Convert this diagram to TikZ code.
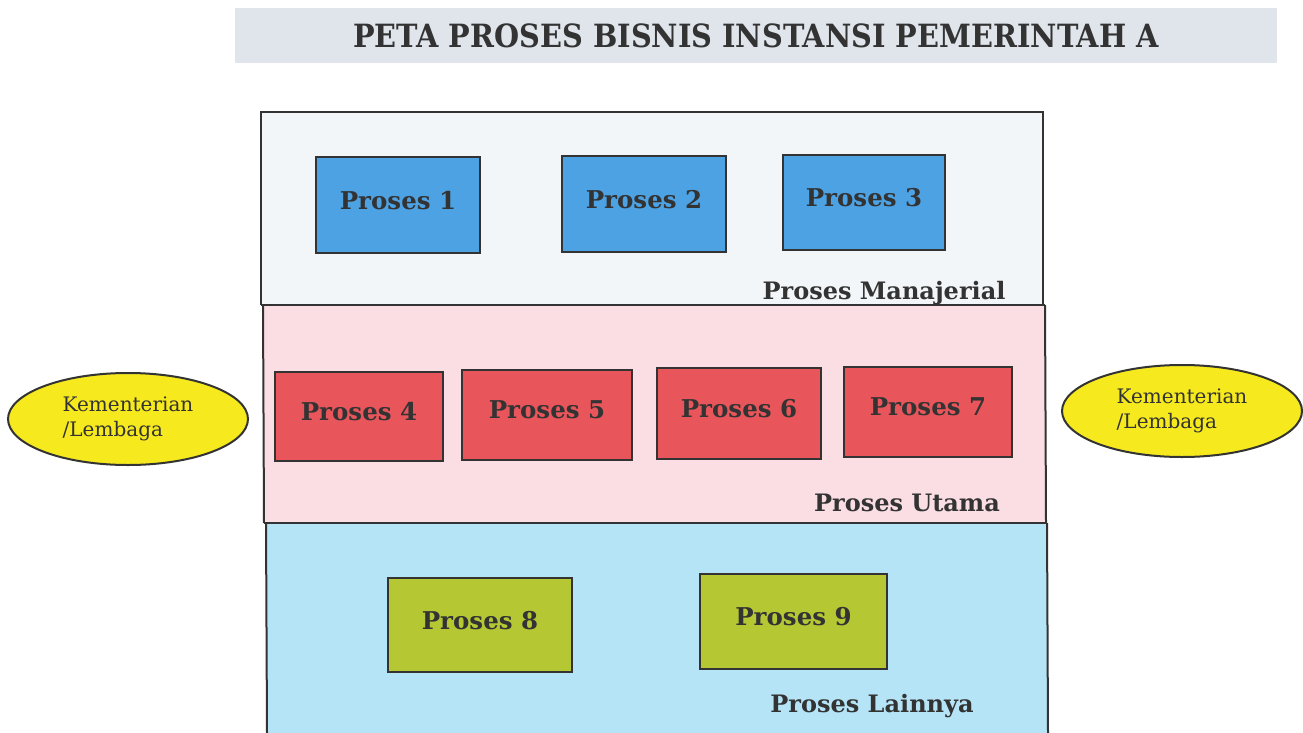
\documentclass[tikz,border=0pt]{standalone}
\usepackage{fontspec}
\setmainfont{DejaVu Serif}
\usetikzlibrary{shapes.geometric}
\definecolor{titlebg}{HTML}{DFE5EB}
\definecolor{topbg}{HTML}{F3F6F8}
\definecolor{midbg}{HTML}{FADEE4}
\definecolor{botbg}{HTML}{B4E4F6}
\definecolor{pblue}{HTML}{4DA2E4}
\definecolor{pred}{HTML}{E8555B}
\definecolor{pgreen}{HTML}{B5C834}
\definecolor{kyellow}{HTML}{F6EA1E}
\definecolor{ink}{HTML}{333333}
\tikzset{
  procbox/.style={draw=ink, line width=2.5pt, rectangle, inner sep=0pt, text depth=10pt,
    font=\fontsize{24.5}{28}\selectfont\bfseries, text=ink},
  seclabel/.style={font=\fontsize{24}{28}\selectfont\bfseries, text=ink, inner sep=0pt},
  kl/.style={ellipse, draw=ink, line width=2pt, fill=kyellow, minimum width=240pt,
    minimum height=92pt, inner sep=0pt, align=left, text=ink,
    font=\fontsize{20}{25}\selectfont},
}
\begin{document}
\begin{tikzpicture}[x=1pt,y=-1pt]
\useasboundingbox (0,0) rectangle (1303,733);
\fill[white] (0,0) rectangle (1303,733);
% title band
\fill[titlebg] (235,8) rectangle (1277,63);
\node[font=\fontsize{32}{36}\selectfont\bfseries, text=ink, inner sep=0pt] (title) at (756,36)
  {\addfontfeature{FakeStretch=0.9}PETA PROSES BISNIS INSTANSI PEMERINTAH A};
% sections
\fill[topbg] (261,112) rectangle (1043,305);
\fill[midbg] (263,305) rectangle (1045,523);
\fill[botbg] (266,523) rectangle (1048,733);
\draw[ink, line width=2pt] (261,305) -- (261,112) -- (1043,112) -- (1043,305);
\draw[ink, line width=2pt] (261,305) -- (1045,305);
\draw[ink, line width=2pt] (263,305) -- (264,523);
\draw[ink, line width=2pt] (1045,305) -- (1046,523);
\draw[ink, line width=2pt] (264,523) -- (1046,523);
\draw[ink, line width=2pt] (266,523) -- (267,733);
\draw[ink, line width=2pt] (1047,523) -- (1048,733);
% managerial
\node[procbox, fill=pblue, minimum width=164pt, minimum height=96pt] (p1) at (398,205) {Proses 1};
\node[procbox, fill=pblue, minimum width=164pt, minimum height=96pt] (p2) at (644,204) {Proses 2};
\node[procbox, fill=pblue, minimum width=162pt, minimum height=95pt] (p3) at (864,202.5) {Proses 3};
\node[seclabel] (lman) at (884,293) {Proses Manajerial};
% utama
\node[procbox, fill=pred, minimum width=168pt, minimum height=89pt] (p4) at (359,416.5) {Proses 4};
\node[procbox, fill=pred, minimum width=170pt, minimum height=90pt] (p5) at (547,415) {Proses 5};
\node[procbox, fill=pred, minimum width=164pt, minimum height=91pt] (p6) at (739,413.5) {Proses 6};
\node[procbox, fill=pred, minimum width=168pt, minimum height=90pt] (p7) at (928,412) {Proses 7};
\node[seclabel] (luta) at (907,503) {Proses Utama};
% lainnya
\node[procbox, fill=pgreen, minimum width=184pt, minimum height=94pt] (p8) at (480,625) {Proses 8};
\node[procbox, fill=pgreen, minimum width=187pt, minimum height=95pt] (p9) at (793.5,621.5) {Proses 9};
\node[seclabel] (llain) at (872,706) {Proses Lainnya};
% ellipses
\node[kl] (kl1) at (128,419) {Kementerian\\/Lembaga};
\node[kl] (kl2) at (1182,411) {Kementerian\\/Lembaga};
\end{tikzpicture}
\end{document}
